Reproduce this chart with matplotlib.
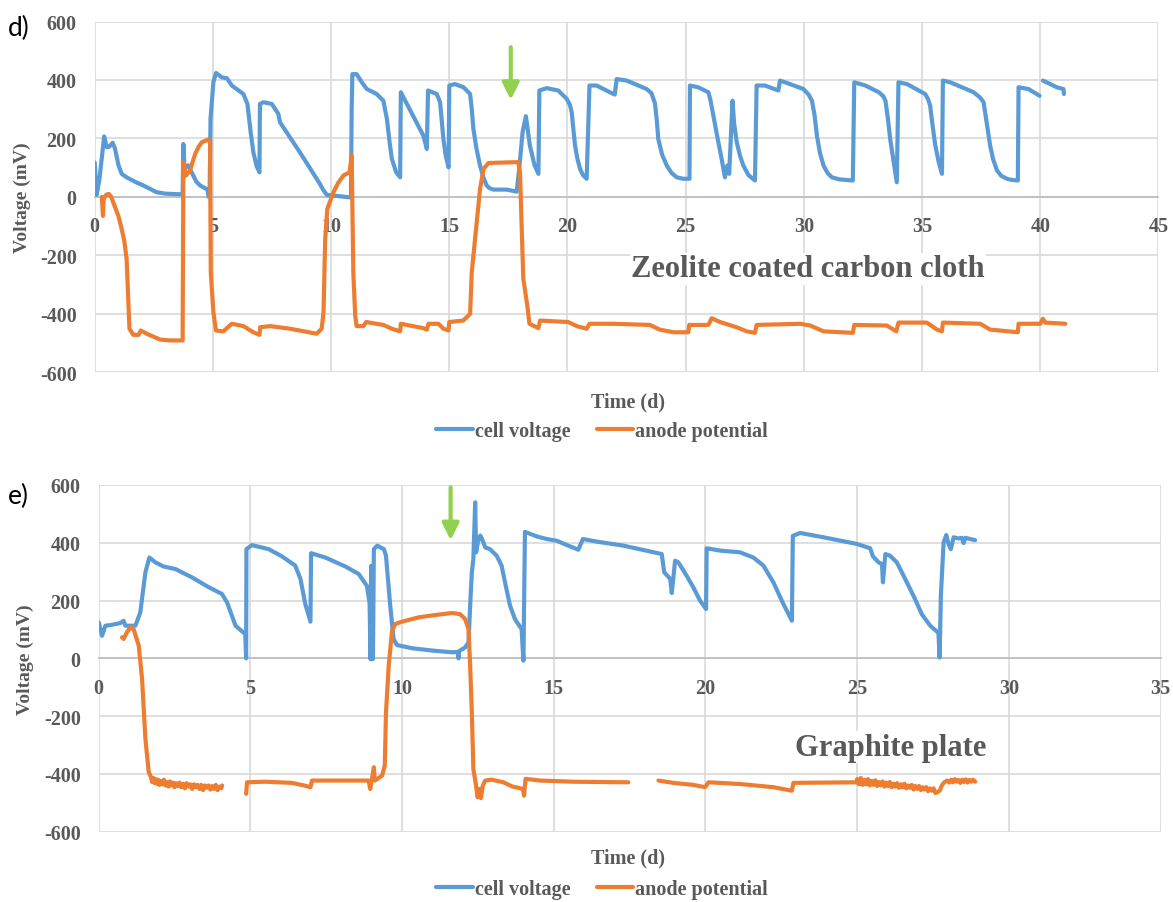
import numpy as np
import matplotlib
matplotlib.use("Agg")
import matplotlib.pyplot as plt

#========================================================================
# data (time in d, voltage in mV)
#========================================================================
nan = np.nan

# d) zeolite coated carbon cloth
cell_d = [(0.00, 118), (0.08, 7), (0.2, 60), (0.4, 207), (0.51, 170), (0.62, 172), (0.76, 185), (0.86, 165),
          (1.0, 110), (1.14, 79), (1.35, 67), (1.7, 52), (2.06, 39), (2.4, 25), (2.62, 16), (3.0, 11),
          (3.64, 9), (3.72, 10), (3.75, 181), (3.8, 96), (3.95, 108), (4.17, 73), (4.3, 52), (4.46, 39),
          (4.77, 25), (4.82, 0), (4.86, 5),
          (4.9, 267), (5.02, 392), (5.13, 424), (5.37, 409), (5.59, 406), (5.8, 381), (6.29, 352), (6.46, 318),
          (6.6, 220), (6.71, 153), (6.85, 105), (6.97, 84), (6.99, 318), (7.14, 324), (7.49, 318),
          (7.77, 284), (7.84, 255), (8.7, 150), (9.53, 44), (9.68, 22), (9.82, 7), (10.8, -2), (10.84, -2),
          (10.87, 300), (10.9, 420), (11.08, 420), (11.3, 392), (11.51, 369), (11.93, 352), (12.21, 329),
          (12.36, 267), (12.47, 190), (12.57, 130), (12.75, 85), (12.92, 67), (12.95, 358), (13.9, 210),
          (14.05, 164), (14.1, 364), (14.47, 352), (14.61, 324), (14.75, 198), (14.85, 140), (14.97, 101),
          (15.0, 381), (15.24, 386), (15.6, 375), (15.88, 352), (15.95, 300), (16.02, 232), (16.15, 165),
          (16.3, 107), (16.45, 65), (16.58, 39), (16.7, 30), (16.86, 25), (17.43, 25), (17.85, 18),
          (17.95, 90), (18.1, 221), (18.24, 276), (18.41, 175), (18.6, 110), (18.77, 79), (18.81, 364),
          (19.12, 372), (19.61, 364), (19.97, 335), (20.1, 315), (20.18, 289), (20.25, 230), (20.32, 175),
          (20.42, 130), (20.53, 96), (20.65, 75), (20.81, 62), (20.93, 381), (21.23, 381), (21.94, 352),
          (22.0, 350), (22.08, 403), (22.5, 398), (23.35, 369), (23.55, 355), (23.7, 320), (23.78, 260),
          (23.84, 198), (24.0, 145), (24.2, 107), (24.4, 82), (24.62, 67), (24.9, 62), (25.16, 62),
          (25.18, 381), (25.53, 375), (25.96, 358), (26.05, 330), (26.17, 278), (26.35, 200), (26.52, 130),
          (26.66, 67), (26.76, 107), (26.84, 79), (26.98, 329), (27.05, 250), (27.16, 187), (27.3, 140),
          (27.44, 107), (27.65, 75), (27.93, 56), (28.0, 381), (28.35, 381), (28.92, 364), (28.99, 398),
          (29.41, 386), (29.98, 369), (30.2, 350), (30.34, 329), (30.45, 280), (30.55, 210), (30.68, 150),
          (30.83, 107), (31.0, 82), (31.18, 67), (31.5, 60), (32.07, 56), (32.13, 392), (32.6, 381),
          (33.17, 358), (33.35, 345), (33.45, 329), (33.55, 270), (33.65, 198), (33.8, 120), (33.93, 50),
          (34.0, 392), (34.36, 386), (35.13, 352), (35.25, 335), (35.34, 312), (35.45, 240), (35.56, 175),
          (35.7, 120), (35.84, 79), (35.88, 398), (36.19, 392), (37.18, 358), (37.45, 340), (37.6, 324),
          (37.72, 260), (37.88, 175), (38.0, 130), (38.17, 90), (38.35, 72), (38.59, 62), (38.8, 58),
          (39.05, 56), (39.08, 375), (39.5, 369), (39.97, 346), (nan, nan),
          (40.11, 398), (40.7, 375), (40.98, 369), (41.0, 352)]

anode_d = [(0.3, 0), (0.35, -65), (0.38, -5), (0.5, 8), (0.6, 10), (0.7, 0), (0.86, -35), (1.0, -65),
           (1.14, -109), (1.25, -150), (1.35, -212), (1.47, -451), (1.64, -472), (1.85, -472), (1.95, -457),
           (2.2, -468), (2.76, -488), (3.19, -491), (3.72, -491), (3.75, 119), (3.86, 73), (4.03, 90),
           (4.25, 147), (4.4, 172), (4.53, 187), (4.81, 196), (4.88, 187), (4.91, -258), (5.02, -394),
           (5.13, -457), (5.44, -460), (5.8, -434), (6.29, -442), (6.71, -463), (6.97, -472), (7.0, -446),
           (7.42, -442), (8.27, -451), (9.39, -468), (9.6, -451), (9.68, -394), (9.75, -144), (9.84, -41),
           (10.1, 16), (10.3, 48), (10.52, 73), (10.78, 84), (10.87, 141), (10.94, -258), (11.02, -406),
           (11.08, -442), (11.37, -442), (11.48, -428), (12.21, -438), (12.57, -451), (12.92, -460),
           (12.95, -434), (13.9, -449), (14.05, -454), (14.12, -434), (14.54, -434), (14.75, -451),
           (14.97, -457), (15.0, -428), (15.59, -423), (15.88, -400), (15.95, -258), (16.02, -201),
           (16.3, 27), (16.45, 96), (16.66, 116), (17.92, 119), (17.99, 84), (18.13, -280), (18.3, -372),
           (18.39, -434), (18.77, -449), (18.84, -423), (19.54, -426), (20.03, -428), (20.39, -442),
           (20.81, -451), (20.93, -434), (21.94, -434), (23.49, -438), (23.9, -454), (24.48, -463),
           (25.11, -463), (25.15, -438), (25.96, -438), (26.1, -415), (26.45, -428), (27.16, -446),
           (27.58, -460), (27.93, -465), (28.0, -438), (29.84, -434), (30.27, -440), (30.83, -460),
           (32.07, -465), (32.13, -438), (33.51, -440), (33.91, -460), (34.0, -430), (35.2, -430),
           (35.63, -454), (35.84, -460), (35.88, -430), (37.46, -434), (37.88, -454), (39.05, -463),
           (39.08, -434), (40.0, -434), (40.11, -417), (40.21, -430), (41.06, -434)]

# e) graphite plate
cell_e = [(0, 125), (0.11, 78), (0.22, 113), (0.38, 115), (0.71, 122), (0.82, 130), (0.88, 113), (1.21, 113),
          (1.37, 159), (1.54, 298), (1.67, 349), (1.87, 332), (2.14, 318), (2.53, 309), (3.08, 280),
          (3.63, 246), (4.06, 223), (4.23, 194), (4.38, 150), (4.51, 113), (4.83, 84), (4.86, 0), (4.87, 378),
          (5.05, 392), (5.6, 378), (6.04, 353), (6.48, 321), (6.65, 275), (6.81, 188), (6.98, 127), (7.0, 364),
          (7.47, 349), (8.13, 318), (8.57, 292), (8.84, 251), (8.93, 190), (8.96, -3), (8.98, 320), (9.0, -3),
          (9.02, 300), (9.04, -2), (9.07, 378), (9.18, 390), (9.4, 378), (9.47, 355), (9.61, 182), (9.72, 67),
          (9.83, 46), (10.33, 35), (10.99, 27), (11.65, 21), (11.84, 22), (11.86, 0), (11.88, 25),
          (12.08, 38), (12.19, 55), (12.26, 217), (12.3, 298), (12.35, 344), (12.41, 540), (12.44, 367),
          (12.52, 413), (12.58, 425), (12.66, 407), (12.74, 384), (12.9, 378), (13.12, 355), (13.28, 321),
          (13.42, 250), (13.56, 182), (13.72, 136), (13.94, 101), (14.0, -8), (14.05, 438), (14.44, 422),
          (14.77, 413), (15.1, 407), (15.48, 390), (15.81, 376), (15.96, 413), (16.42, 404), (17.3, 390),
          (18.56, 361), (18.64, 298), (18.84, 275), (18.89, 226), (19.0, 338), (19.11, 332), (19.38, 286),
          (19.6, 246), (19.82, 200), (20.02, 171), (20.04, 381), (20.48, 373), (21.14, 367), (21.58, 349),
          (21.91, 321), (22.24, 263), (22.57, 188), (22.85, 130), (22.88, 424), (23.12, 434), (23.89, 419),
          (24.99, 396), (25.43, 381), (25.52, 353), (25.71, 332), (25.82, 326), (25.85, 263), (25.93, 361),
          (26.09, 355), (26.31, 332), (26.64, 263), (26.91, 205), (27.13, 153), (27.41, 113), (27.68, 88),
          (27.72, 3), (27.76, 217), (27.85, 401), (27.94, 427), (28.01, 396), (28.09, 378), (28.18, 419),
          (28.34, 415), (28.45, 417), (28.51, 399), (28.57, 417), (28.89, 409)]

anode_e = [(0.77, 73), (0.82, 67), (0.93, 90), (1.04, 107), (1.15, 101), (1.32, 44), (1.43, -72),
           (1.54, -279), (1.65, -394),
           (1.72, -410), (1.76, -428), (1.8, -414), (1.84, -432), (1.88, -418), (1.92, -434), (1.96, -420),
           (2.0, -438), (2.05, -424), (2.1, -436), (2.15, -420), (2.2, -440), (2.25, -428), (2.3, -444),
           (2.35, -426), (2.4, -440), (2.45, -430), (2.5, -446), (2.55, -432), (2.6, -442), (2.66, -430),
           (2.72, -446), (2.78, -434), (2.84, -450), (2.9, -432), (2.96, -444), (3.02, -436), (3.08, -452),
           (3.14, -436), (3.2, -446), (3.26, -438), (3.32, -452), (3.38, -438), (3.44, -456), (3.5, -440),
           (3.56, -448), (3.62, -440), (3.68, -454), (3.74, -442), (3.8, -452), (3.86, -438), (3.92, -456),
           (3.98, -444), (4.04, -450), (4.07, -440), (nan, nan),
           (4.86, -469), (4.89, -429), (5.49, -427), (6.37, -431), (6.81, -441), (6.98, -446), (7.03, -423),
           (8.02, -423), (8.9, -423), (8.95, -452), (9.01, -417), (9.07, -377), (9.1, -423), (9.34, -406),
           (9.43, -371), (9.47, -187), (9.56, -25), (9.67, 96), (9.78, 119), (10.0, 127), (10.55, 142),
           (11.1, 150), (11.65, 157), (11.91, 153), (12.08, 136), (12.19, 101), (12.24, -14), (12.3, -187),
           (12.35, -383), (12.44, -441), (12.49, -481), (12.55, -452), (12.6, -484), (12.66, -441),
           (12.74, -423), (12.95, -420), (13.34, -429), (13.62, -443), (13.98, -452), (14.02, -475),
           (14.07, -417), (14.55, -423), (15.65, -427), (17.46, -429), (nan, nan),
           (18.45, -423), (18.94, -431), (19.6, -438), (19.99, -446), (20.1, -429), (21.14, -435),
           (22.24, -446), (22.85, -458), (22.9, -431), (24.99, -429),
           (25.0, -418), (25.06, -436), (25.12, -414), (25.18, -438), (25.24, -420), (25.3, -436),
           (25.36, -418), (25.42, -440), (25.48, -424), (25.54, -438), (25.6, -422), (25.66, -442),
           (25.72, -428), (25.78, -440), (25.84, -426), (25.9, -444), (25.96, -430), (26.02, -442),
           (26.08, -428), (26.14, -446), (26.2, -434), (26.26, -444), (26.32, -432), (26.38, -448),
           (26.44, -436), (26.5, -446), (26.56, -434), (26.62, -450), (26.68, -440), (26.74, -448),
           (26.8, -438), (26.86, -454), (26.92, -442), (26.98, -452), (27.04, -442), (27.1, -456),
           (27.16, -446), (27.22, -454), (27.28, -446), (27.34, -460), (27.4, -450), (27.46, -458),
           (27.52, -450), (27.58, -466), (27.63, -464), (27.72, -458), (27.79, -441), (27.86, -430),
           (27.96, -423), (28.04, -430), (28.1, -420), (28.16, -429), (28.22, -418), (28.28, -427),
           (28.34, -421), (28.4, -431), (28.46, -420), (28.52, -428), (28.58, -419), (28.64, -430),
           (28.7, -421), (28.76, -427), (28.82, -420), (28.89, -427)]

# green arrows (x, arrow top, arrow tip)
arrow_d = (17.6, 512, 332)
arrow_e = (11.6, 592, 409)

labels = ["cell voltage", "anode potential"]
blue, orange, green, grey = "#5b9bd5", "#ed7d31", "#92d050", "#595959"

#========================================================================
plt.rcParams['font.family'] = ['Liberation Serif', 'DejaVu Serif']
plt.rcParams['font.weight'] = 'bold'
plt.rcParams['axes.labelweight'] = 'bold'
plt.rcParams['axes.unicode_minus'] = False

W, H = 1173, 903
fig = plt.figure(figsize=(W/100, H/100), dpi=100)

def px_axes(l, t, r, b):
    return fig.add_axes([l/W, 1 - b/H, (r - l)/W, (b - t)/H])

ax_d = px_axes(94.7, 22.5, 1158.5, 373.3)
ax_e = px_axes(98.7, 486.0, 1160.5, 832.7)


def style_panel(ax, xmax, ylab_x):
    ax.set_xlim(0, xmax)
    ax.set_ylim(-600, 600)
    ax.set_xticks(range(0, xmax + 1, 5))
    ax.set_yticks(range(-600, 601, 200))
    ax.grid(True, color="#d9d9d9", lw=1.2)
    ax.set_axisbelow(True)
    for s in ["top", "right", "left"]:
        ax.spines[s].set_visible(False)
    ax.spines["bottom"].set_position(("data", 0))
    ax.spines["bottom"].set_color("#bfbfbf")
    ax.spines["bottom"].set_linewidth(1.3)
    ax.tick_params(length=0, labelsize=14.5, labelcolor=grey)
    ax.tick_params(axis="y", pad=13)
    ax.tick_params(axis="x", pad=14)
    plt.setp(ax.get_xticklabels() + ax.get_yticklabels(), fontweight="bold")
    ax.set_ylabel("Voltage (mV)", fontsize=14, color=grey, fontweight="bold")
    ax.yaxis.label.set_va("center")
    ax.yaxis.set_label_coords(ylab_x, 0.5)


for ax, cell, anode, xmax, arrow, ylab_x in [(ax_d, cell_d, anode_d, 45, arrow_d, -0.068),
                                             (ax_e, cell_e, anode_e, 35, arrow_e, -0.069)]:
    style_panel(ax, xmax, ylab_x)
    c = np.array(cell, dtype=float)
    a = np.array(anode, dtype=float)
    ax.plot(c[:, 0], c[:, 1], color=blue, lw=3.0, label=labels[0], solid_joinstyle="round",
            solid_capstyle="round", zorder=3)
    ax.plot(a[:, 0], a[:, 1], color=orange, lw=3.0, label=labels[1], solid_joinstyle="round",
            solid_capstyle="round", zorder=3)
    ax.annotate("", xy=(arrow[0], arrow[2]), xytext=(arrow[0], arrow[1]),
                arrowprops=dict(arrowstyle="-|>,head_length=1.0,head_width=0.5", color=green,
                                lw=3, mutation_scale=10, shrinkA=0, shrinkB=0), zorder=4)

# annotations inside the panels
ax_d.text(0.6705, 0.2945, "Zeolite coated carbon cloth", transform=ax_d.transAxes, fontsize=22,
          color=grey, ha="center", va="center",
          bbox=dict(facecolor="white", edgecolor="none", pad=1))
ax_e.text(0.746, 0.244, "Graphite plate", transform=ax_e.transAxes, fontsize=22,
          color=grey, ha="center", va="center",
          bbox=dict(facecolor="white", edgecolor="none", pad=1))

# x labels and legends under each panel
for ax, ty, ly in [(ax_d, 402, 432), (ax_e, 858, 890)]:
    fig.text(628/W, 1 - ty/H, "Time (d)", fontsize=14.5, color=grey, ha="center", va="center")
    leg = ax.legend(loc="center", bbox_to_anchor=(602/W, 1 - ly/H), bbox_transform=fig.transFigure,
                    ncol=2, frameon=False, fontsize=14.5, handlelength=1.8, handletextpad=0.1,
                    columnspacing=1.3, labelcolor=grey)
    for ln in leg.get_lines():
        ln.set_linewidth(3.0)

fig.text(8/W, 1 - 36/H, "d)", fontsize=19, family="Lato", fontweight="normal", va="baseline")
fig.text(8/W, 1 - 504/H, "e)", fontsize=19, family="Lato", fontweight="normal", va="baseline")

fig.savefig("out.png", dpi=100)
